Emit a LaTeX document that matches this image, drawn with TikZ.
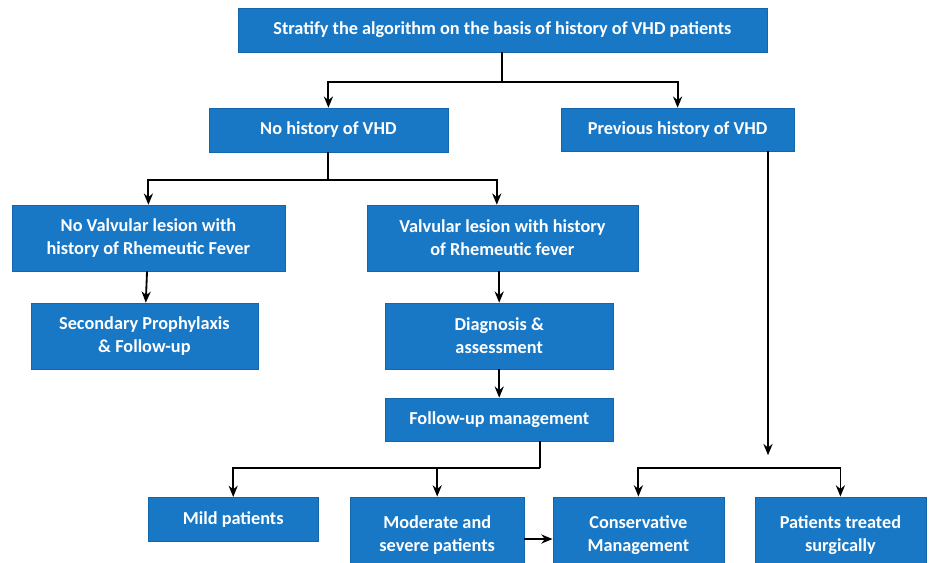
\documentclass[tikz,border=0pt]{standalone}
\usepackage{fontspec}
\setmainfont{Carlito}
\usepackage{tikz}
\usetikzlibrary{arrows.meta}
\definecolor{boxblue}{HTML}{1878C6}
\definecolor{boxedge}{HTML}{1466AA}

\tikzset{
  box/.style={draw=boxedge, fill=boxblue, text=white, align=center,
    font=\fontsize{13}{16.5}\selectfont\bfseries, inner sep=2pt},
  link/.style={line width=1.3pt, black}
}

\begin{document}
\begin{tikzpicture}[>={Stealth[length=8pt,width=6.5pt]}]

      \useasboundingbox (0, 0) rectangle (23.25, -14.05);

      % top level
      \node[box, minimum width=13.23cm, minimum height=1.1cm] (strat) at (12.56, -0.75)
        {Stratify the algorithm on the basis of history of VHD patients};
      \node[box, minimum width=5.98cm, minimum height=1.1cm] (nohist) at (8.21, -3.25)
        {No history of VHD};
      \node[box, minimum width=5.83cm, minimum height=1.08cm] (prevhist) at (16.94, -3.24)
        {Previous history of VHD};

      % no history branch
      \node[box, minimum width=6.83cm, minimum height=1.65cm] (novalv) at (3.71, -5.95)
        {No Valvular lesion with\\history of Rhemeutic Fever};
      \node[box, minimum width=6.78cm, minimum height=1.65cm] (valv) at (12.56, -5.95)
        {Valvular lesion with history\\of Rhemeutic fever};
      \node[box, minimum width=5.68cm, minimum height=1.65cm] (second) at (3.61, -8.4)
        {Secondary Prophylaxis\\\& Follow-up};
      \node[box, minimum width=5.7cm, minimum height=1.65cm] (diag) at (12.48, -8.4)
        {Diagnosis \&\\assessment};
      \node[box, minimum width=5.7cm, minimum height=1.08cm] (follow) at (12.48, -10.49)
        {Follow-up management};

      % bottom row, cut by the lower edge
      \node[box, minimum width=4.25cm, minimum height=1.1cm] (mild) at (5.83, -12.98)
        {Mild patients};
      \node[box, minimum width=4.35cm, minimum height=1.9cm] (moder) at (10.93, -13.37)
        {Moderate and\\severe patients};
      \node[box, minimum width=4.28cm, minimum height=1.9cm] (conserv) at (15.96, -13.37)
        {Conservative\\Management};
      \node[box, minimum width=4.28cm, minimum height=1.9cm] (surg) at (21.01, -13.37)
        {Patients treated\\surgically};

      \coordinate (fsplit) at (13.5, -11.7);
      \coordinate (pdrop) at (19.2, -11.38);
      \coordinate (cbar) at (19.2, -11.7);

      \draw[link, ->] (strat.south) -- ++(0, -0.75) -| (nohist.north);
      \draw[link, ->] (strat.south) -- ++(0, -0.75) -| (prevhist.north);
      \draw[link, ->] (nohist.south) -- ++(0, -0.7) -| (novalv.north);
      \draw[link, ->] (nohist.south) -- ++(0, -0.7) -| ([xshift=-0.14cm]valv.north);
      \draw[link, ->] (novalv) -- (second);
      \draw[link, ->] (valv.south -| diag.north) -- (diag.north);
      \draw[link, ->] (diag) -- (follow);
      \draw[link] (follow.south -| fsplit) -- (fsplit);
      \draw[link, ->] (fsplit) -| (mild.north);
      \draw[link, ->] (fsplit) -| (moder.north);
      \draw[link, ->] (prevhist.south -| pdrop) -- (pdrop); % ends above the bar
      \draw[link, ->] (cbar) -| (conserv.north);
      \draw[link, ->] (cbar) -| (surg.north);
      \draw[link, ->] ([yshift=-3pt]moder.east) -- ([yshift=-3pt]conserv.west);

    \end{tikzpicture}
\end{document}
